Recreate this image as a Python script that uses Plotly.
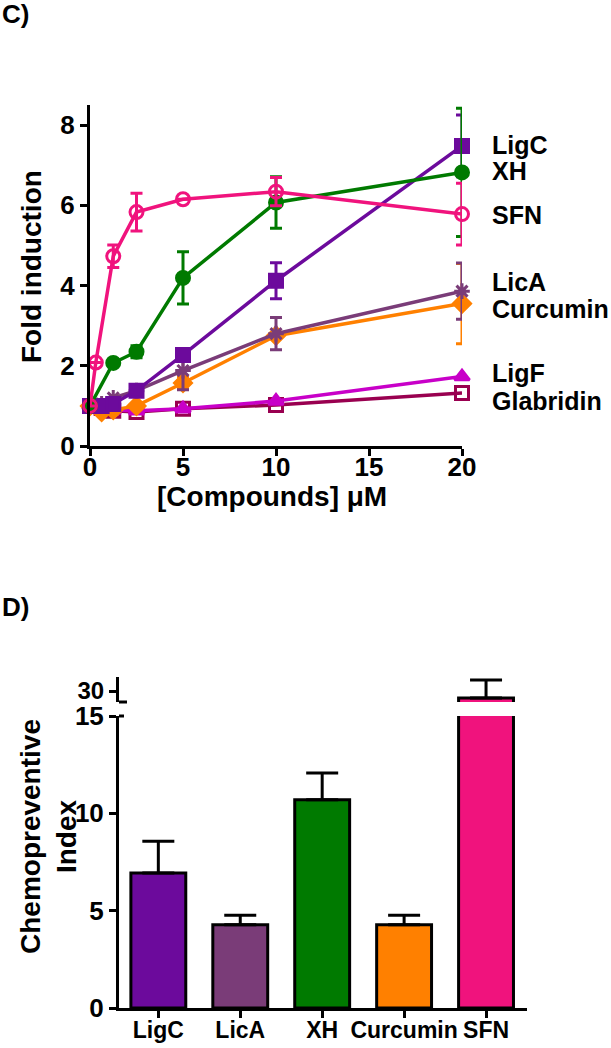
import plotly.graph_objects as go

# ---------------- data: panel C (fold induction) ----------------
conc = [0, 0.3125, 0.625, 1.25, 2.5, 5, 10, 20]

ligc = [1.0, None, 1.0, 1.05, 1.38, 2.27, 4.12, 7.48]
ligc_err = [None, None, None, None, None, 0.12, 0.45, 0.77]

xh = [1.0, None, None, 2.07, 2.35, 4.19, 6.07, 6.82]
xh_err = [None, None, None, None, 0.15, 0.65, 0.64, 1.6]

sfn = [1.0, 2.08, None, 4.73, 5.83, 6.15, 6.34, 5.78]
sfn_err = [None, None, None, 0.28, 0.47, None, 0.35, 0.77]

lica = [1.0, None, 1.05, 1.2, 1.38, 1.88, 2.8, 3.86]
lica_err = [None, None, None, None, None, 0.48, 0.4, 0.7]

curc = [1.0, None, 0.85, 0.9, 1.0, 1.57, 2.75, 3.55]
curc_err = [None, None, None, None, None, 0.15, None, 1.0]

ligf = [1.0, None, 0.95, 0.9, 0.88, 0.93, 1.12, 1.73]
glab = [1.0, None, 0.95, 0.88, 0.85, 0.93, 1.02, 1.32]

x_ticks = [0, 5, 10, 15, 20]
y_ticks = [0, 2, 4, 6, 8]

# ---------------- data: panel D (chemopreventive index) ----------------
compounds = ["LigC", "LicA", "XH", "Curcumin", "SFN"]
ci_vals = [6.93, 4.28, 10.7, 4.28, 28.1]
ci_err = [1.63, 0.48, 1.37, 0.48, 4.9]

# ---------------- styles ----------------
FONT = "Liberation Sans, Arial, sans-serif"
C_LIGC = "#6C0A9C"
C_XH = "#007A00"
C_SFN = "#F0137D"
C_LICA = "#7A3C78"
C_CURC = "#FF8000"
C_LIGF = "#C800C8"
C_GLAB = "#990050"
bar_colors = [C_LIGC, C_LICA, C_XH, C_CURC, C_SFN]

W, H = 611, 1048
def px(x):
    return x / W
def py(y):
    return 1 - y / H

fig = go.Figure()

series = [
    ("LigC", ligc, ligc_err, C_LIGC, "square", 7.5),
    ("XH", xh, xh_err, C_XH, "circle", 6.85),
    ("SFN", sfn, sfn_err, C_SFN, "circle-open", 5.75),
    ("LicA", lica, lica_err, C_LICA, "asterisk-open", 4.1),
    ("Curcumin", curc, curc_err, C_CURC, "diamond", 3.42),
    ("LigF", ligf, None, C_LIGF, "triangle-up", 1.82),
    ("Glabridin", glab, None, C_GLAB, "square-open", 1.13),
]

draw_order = ["Glabridin", "LigF", "Curcumin", "LicA", "LigC", "XH", "SFN"]
lookup = {s[0]: s for s in series}
for name in draw_order:
    _, yv, ev, col, sym, _ = lookup[name]
    err = None
    if ev is not None:
        err = dict(type="data", array=ev, color=col, thickness=3, width=6, visible=True)
    fig.add_trace(go.Scatter(
        x=conc, y=yv, mode="lines+markers", connectgaps=True,
        line=dict(color=col, width=3.5),
        marker=dict(symbol=sym, size=13, color=col,
                    line=dict(color=col, width=3)),
        error_y=err, cliponaxis=False, xaxis="x", yaxis="y", name=name,
    ))

for name, _, _, _, _, ly in series:
    fig.add_annotation(x=px(490), xref="paper", y=ly, yref="y", text=name,
                       showarrow=False, xanchor="left", yanchor="middle",
                       font=dict(family=FONT, size=25, color="black", weight="bold"))

# ---------------- panel D bars ----------------
for yax in ["y2", "y3"]:
    fig.add_trace(go.Bar(
        x=compounds, y=ci_vals, width=0.67,
        marker=dict(color=bar_colors, line=dict(color="black", width=3)),
        error_y=dict(type="data", symmetric=False, array=ci_err,
                     arrayminus=[0] * len(ci_err), color="black", thickness=3, width=16),
        xaxis="x2", yaxis=yax, showlegend=False,
    ))

axis_common = dict(showline=True, linecolor="black", linewidth=3, ticks="outside",
                   ticklen=7, tickwidth=3, tickcolor="black", showgrid=False,
                   zeroline=False, automargin=False,
                   tickfont=dict(family=FONT, size=26, color="black", weight="bold"))

x1_dom = [px(90), px(462)]
x2_dom = [px(119), px(527)]
lower_dom = [py(1008), py(716)]
upper_dom = [py(702), py(677)]

fig.update_layout(
    template="none",
    width=W, height=H, margin=dict(l=0, r=0, t=0, b=0, pad=0, autoexpand=False),
    paper_bgcolor="white", plot_bgcolor="white", showlegend=False,
    xaxis=dict(domain=x1_dom, range=[0, 20], tickvals=x_ticks, anchor="y",
               ticklabelstandoff=-11, **axis_common),
    yaxis=dict(domain=[py(446), py(105)], range=[0, 8.5], tickvals=y_ticks, anchor="x",
               **axis_common),
    xaxis2=dict(domain=x2_dom, range=[-0.48, 4.5], anchor="y2", type="category", tickangle=0,
                ticklabelstandoff=-8,
                **{**axis_common, "tickfont": dict(family=FONT, size=23, color="black",
                                                    weight="bold")}),
    yaxis2=dict(domain=lower_dom, range=[0, 15], tickvals=[0, 5, 10, 15], anchor="x2",
                **axis_common),
    yaxis3=dict(domain=upper_dom, range=[27, 33.82], tickvals=[30], anchor="x2",
                **{**axis_common, "tickfont": dict(family=FONT, size=24, color="black",
                                                    weight="bold")}),
)

# axis-break caps
fig.add_shape(type="line", xref="paper", yref="paper", x0=x2_dom[0], x1=x2_dom[0] + px(8),
              y0=upper_dom[0], y1=upper_dom[0], line=dict(color="black", width=3))
fig.add_shape(type="line", xref="paper", yref="paper", x0=x2_dom[0], x1=x2_dom[0] + px(5),
              y0=lower_dom[1], y1=lower_dom[1], line=dict(color="black", width=3))

bold = dict(family=FONT, color="black", weight="bold")
fig.add_annotation(x=0, xref="paper", y=py(-3), yref="paper", text="C)", showarrow=False,
                   xanchor="left", yanchor="top", font=dict(size=26, **bold))
fig.add_annotation(x=0, xref="paper", y=py(590), yref="paper", text="D)", showarrow=False,
                   xanchor="left", yanchor="top", font=dict(size=26, **bold))
fig.add_annotation(x=px(31), xref="paper", y=py(267), yref="paper", text="Fold induction",
                   textangle=-90, showarrow=False, xanchor="center", yanchor="middle",
                   font=dict(size=28, **bold))
fig.add_annotation(x=px(272), xref="paper", y=py(496), yref="paper", text="[Compounds] μM",
                   showarrow=False, xanchor="center", yanchor="middle",
                   font=dict(size=28, **bold))
fig.add_annotation(x=px(48), xref="paper", y=py(837), yref="paper",
                   text="Chemopreventive<br>Index", textangle=-90, showarrow=False,
                   xanchor="center", yanchor="middle", font=dict(size=28, **bold))

fig.write_html("out.html", config={"displayModeBar": False},
               post_script="document.body.style.margin='0px';")
